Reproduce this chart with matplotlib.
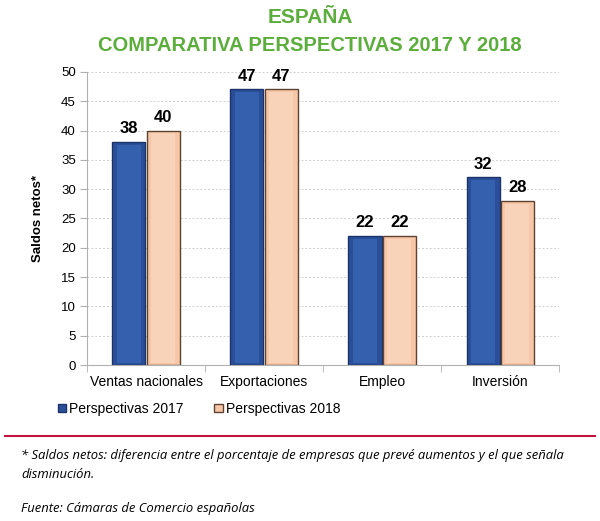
import numpy as np
import matplotlib
matplotlib.use("Agg")
from matplotlib import pyplot as plt
from matplotlib.patches import Patch

categories = ["Ventas nacionales", "Exportaciones", "Empleo", "Inversión"]
values_2017 = [38, 47, 22, 32]
values_2018 = [40, 47, 22, 28]
series_names = ["Perspectivas 2017", "Perspectivas 2018"]
y_ticks = [0, 5, 10, 15, 20, 25, 30, 35, 40, 45, 50]

plt.rcParams["font.family"] = ["Liberation Sans", "DejaVu Sans"]

blue = "#2a4f98"
blue_light = "#3560ad"
blue_edge = "#1b336a"
peach = "#f6c6a6"
peach_light = "#f9d3b9"
peach_edge = "#5e4333"
green = "#5cae3c"

fig = plt.figure(figsize=(6.0, 5.21), dpi=100)
ax = fig.add_axes([0.145, 0.2994, 0.787, 0.5626])

x = np.arange(len(categories))
w = 0.28
x1 = x - w / 2 - 0.005
x2 = x + w / 2 + 0.005
b1 = ax.bar(x1, values_2017, w, color=blue, edgecolor=blue_edge,
            linewidth=1.0, zorder=3)
b2 = ax.bar(x2, values_2018, w, color=peach, edgecolor=peach_edge,
            linewidth=1.0, zorder=3)

# bevel: lighter face inside the darker rim
ax.bar(x1, np.array(values_2017) - 0.9, w * 0.72, bottom=0.4,
       color=blue_light, linewidth=0, zorder=3.5)
ax.bar(x2, np.array(values_2018) - 0.9, w * 0.72, bottom=0.4,
       color=peach_light, linewidth=0, zorder=3.5)

for bars, vals in ((b1, values_2017), (b2, values_2018)):
    for rect, v in zip(bars, vals):
        ax.text(rect.get_x() + rect.get_width() / 2, v + 1.0, str(v),
                ha="center", va="bottom", fontsize=12, fontweight="bold",
                color="black")

ax.set_xlim(-0.5, len(categories) - 0.5)
ax.set_ylim(0, 50)
ax.set_yticks(y_ticks)
ax.tick_params(axis="y", labelsize=9.5, length=5, color="#b0b0b0", pad=3)
ax.set_xticks(x)
ax.set_xticklabels(categories, fontsize=10)
ax.tick_params(axis="x", length=0, pad=7)
ax.set_xticks(np.arange(len(categories) + 1) - 0.5, minor=True)
ax.tick_params(axis="x", which="minor", length=5, color="#b0b0b0")

ax.grid(axis="y", color="#d0d0d0", linestyle=(0, (2, 2)), linewidth=0.7, zorder=0)
for side in ("top", "right"):
    ax.spines[side].set_visible(False)
ax.spines["left"].set_color("#b0b0b0")
ax.spines["bottom"].set_color("#b0b0b0")

ax.set_ylabel("Saldos netos*", fontsize=9.5, fontweight="bold", labelpad=12)

fig.text(0.517, 0.966, "ESPAÑA", ha="center", va="center", color=green,
         fontsize=15, fontweight="bold")
fig.text(0.517, 0.912, "COMPARATIVA PERSPECTIVAS 2017 Y 2018", ha="center",
         va="center", color=green, fontsize=14.5, fontweight="bold")

handles = [Patch(facecolor=blue, edgecolor=blue_edge),
           Patch(facecolor=peach, edgecolor=peach_edge)]
fig.legend(handles, series_names, loc="center left",
           bbox_to_anchor=(0.075, 0.215), ncol=2, frameon=False,
           fontsize=10, handlelength=0.6, handleheight=0.6,
           handletextpad=0.25, columnspacing=2.2)

fig.add_artist(plt.Line2D([0.008, 0.992], [0.163, 0.163], color="#c0163f",
                          linewidth=1.5))

foot = ["Open Sans", "DejaVu Sans"]
fig.text(0.035, 0.126, "* Saldos netos: diferencia entre el porcentaje de empresas "
         "que prevé aumentos y el que señala", fontsize=9.4, style="italic",
         family=foot, va="center")
fig.text(0.035, 0.089, "disminución.", fontsize=9.4, style="italic",
         family=foot, va="center")
fig.text(0.035, 0.024, "Fuente: Cámaras de Comercio españolas", fontsize=9.4,
         style="italic", family=foot, va="center")

fig.savefig("out.png", dpi=100)
